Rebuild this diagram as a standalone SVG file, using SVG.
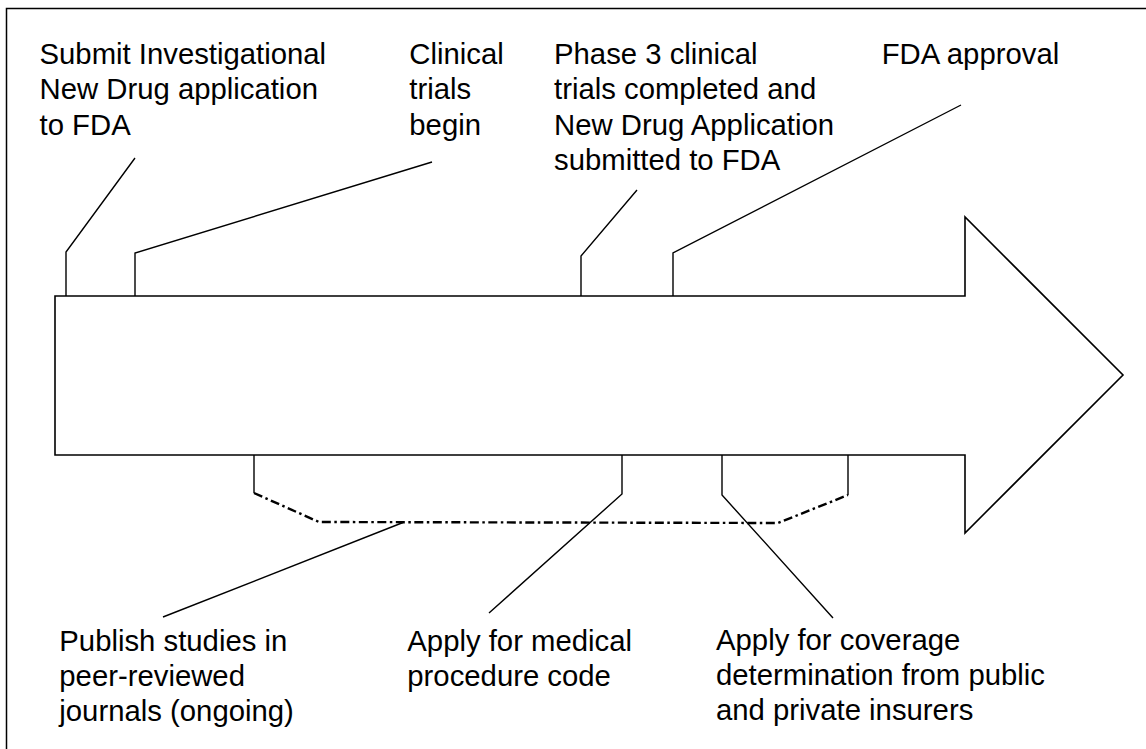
<svg xmlns="http://www.w3.org/2000/svg" width="1146" height="749" viewBox="0 0 1146 749">
  <style>
    .lbl { font-family: "Liberation Sans", Arial, sans-serif; font-size: 29.3px; fill: #000; }
    .lead { fill: none; stroke: #000; stroke-width: 1.4; }
    .span { fill: none; stroke: #000; stroke-width: 2.4; stroke-dasharray: 9 3.5 2.5 3.5; }
    .shape { fill: #fff; stroke: #000; stroke-width: 1.6; }
  </style>

  <!-- page background and frame -->
  <rect x="0" y="0" width="1146" height="749" fill="#fff"/>
  <rect x="6.5" y="8.5" width="1200" height="800" fill="none" stroke="#000" stroke-width="1.5"/>

  <!-- timeline arrow -->
  <g id="timeline-arrow">
    <polygon class="shape" points="55,296 965,296 965,217 1123,375 965,533 965,455 55,455"/>
  </g>

  <!-- leader lines -->
  <g id="connectors">
    <polyline class="lead" points="66,296 66,252 135,158"/>
    <polyline class="lead" points="135,296 135,253 432,162"/>
    <polyline class="lead" points="581,296 581,256 637,190"/>
    <polyline class="lead" points="673,296 673,253 961,105"/>

    <line class="lead" x1="254" y1="455" x2="254" y2="493"/>
    <line class="lead" x1="848" y1="455" x2="848" y2="495"/>
    <polyline class="span" points="254,493 319,522 778,523 848,495"/>

    <line class="lead" x1="403" y1="522.5" x2="163" y2="617"/>
    <polyline class="lead" points="622,455 622,494 489,613"/>
    <polyline class="lead" points="722,455 722,495 833,618"/>
  </g>

  <!-- milestones above the arrow -->
  <g id="submit-ind">
    <text class="lbl" x="39.5" y="63.5">Submit Investigational</text>
    <text class="lbl" x="39.5" y="99">New Drug application</text>
    <text class="lbl" x="39.5" y="134.5">to FDA</text>
  </g>
  <g id="trials-begin">
    <text class="lbl" x="409.3" y="63.5">Clinical</text>
    <text class="lbl" x="409.3" y="99">trials</text>
    <text class="lbl" x="409.3" y="134.5">begin</text>
  </g>
  <g id="phase3-nda">
    <text class="lbl" x="554" y="63.5">Phase 3 clinical</text>
    <text class="lbl" x="554" y="99">trials completed and</text>
    <text class="lbl" x="554" y="134.5">New Drug Application</text>
    <text class="lbl" x="554" y="170">submitted to FDA</text>
  </g>
  <g id="fda-approval">
    <text class="lbl" x="881.7" y="64">FDA approval</text>
  </g>

  <!-- activities below the arrow -->
  <g id="publish">
    <text class="lbl" x="59.3" y="651">Publish studies in</text>
    <text class="lbl" x="59.3" y="686">peer-reviewed</text>
    <text class="lbl" x="59.3" y="721">journals (ongoing)</text>
  </g>
  <g id="procedure-code">
    <text class="lbl" x="407.3" y="650.5">Apply for medical</text>
    <text class="lbl" x="407.3" y="685.5">procedure code</text>
  </g>
  <g id="coverage">
    <text class="lbl" x="716" y="650">Apply for coverage</text>
    <text class="lbl" x="716" y="685">determination from public</text>
    <text class="lbl" x="716" y="720">and private insurers</text>
  </g>
</svg>
